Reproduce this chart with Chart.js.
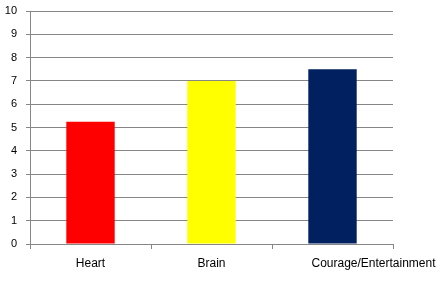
<!DOCTYPE html>
<html><head><meta charset="utf-8">
<script src="https://cdn.jsdelivr.net/npm/chart.js@4"></script>
<style>html,body{margin:0;padding:0;background:#fff;}#wrap{width:445px;height:291px;}</style>
</head><body><div id="wrap"><canvas id="c" width="445" height="291"></canvas></div>
<script>
const categories = ["Heart", "Brain", "Courage/Entertainment"];
const values = [5.25, 7.0, 7.5];
const barColors = ["#FF0000", "#FFFF00", "#002060"];
const yTicks = [0,1,2,3,4,5,6,7,8,9,10];

const catLabelPlugin = {
  id: 'catLabels',
  afterDraw(chart, args, opts) {
    const xs = chart.scales.x, ctx = chart.ctx;
    ctx.save();
    ctx.font = opts.font;
    ctx.fillStyle = opts.color;
    ctx.textAlign = 'center';
    ctx.textBaseline = 'middle';
    xs.ticks.forEach((t, i) => {
      const x = xs.getPixelForTick(i) + (opts.shift[i] || 0);
      ctx.fillText(xs.getLabelForValue(t.value), x, xs.top + opts.dy);
    });
    ctx.restore();
  }
};

new Chart(document.getElementById('c'), {
  type: 'bar',
  data: { labels: categories, datasets: [{ data: values, backgroundColor: barColors, borderWidth: 0, categoryPercentage: 1, barPercentage: 0.4 }] },
  plugins: [catLabelPlugin],
  options: {
    responsive: false, animation: false, devicePixelRatio: 1,
    layout: { padding: { top: 11, right: 52, left: 0, bottom: 0 } },
    plugins: { legend: { display: false }, tooltip: { enabled: false },
      catLabels: { font: '12px "Liberation Sans"', color: '#000', dy: 20, shift: [0, 0, 41] } },
    scales: {
      x: {
        grid: { offset: true, drawOnChartArea: false, drawTicks: true, tickLength: 5, color: '#868686' },
        border: { color: '#868686', width: 1 },
        ticks: { display: false },
        afterFit: s => { s.height = 47; }
      },
      y: {
        min: 0, max: 10,
        afterBuildTicks: s => { s.ticks = yTicks.map(v => ({ value: v })); },
        grid: { color: '#868686', tickLength: 4, drawTicks: true },
        border: { color: '#868686', width: 1 },
        ticks: { color: '#000', font: { family: 'Liberation Sans', size: 11 }, padding: 9 },
        afterFit: s => { s.width = 30; s.paddingTop = 0; s.paddingBottom = 0; }
      }
    }
  }
});
</script></body></html>
